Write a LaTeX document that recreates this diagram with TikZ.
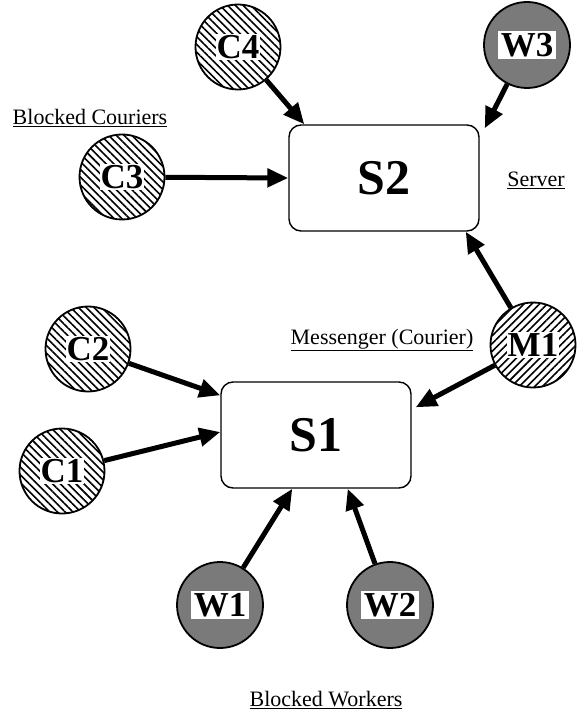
\documentclass[tikz,border=0pt]{standalone}
\usepackage{fontspec}
\setmainfont{Liberation Serif}
\usetikzlibrary{arrows.meta,patterns.meta}

% white knock-out behind the labels of the circles
\newcommand{\knock}[1]{{\setlength{\fboxsep}{1pt}\colorbox{white}{#1}}}
\newcommand{\plate}[1]{{\setlength{\fboxsep}{2.5pt}\colorbox{white}{#1}}}

\tikzset{
  server/.style={draw, line width=1.4pt, rounded corners=12pt,
    minimum width=190pt, minimum height=106pt,
    font=\fontsize{50}{50}\selectfont\bfseries},
  courier/.style={circle, draw, line width=1.8pt, minimum size=85pt, inner sep=0pt,
    pattern={Lines[angle=-45,distance=5.5pt,line width=1.6pt]},
    font=\fontsize{35}{35}\selectfont\bfseries},
  messenger/.style={courier, pattern={Lines[angle=45,distance=5.5pt,line width=1.6pt]}},
  worker/.style={circle, draw, line width=1.8pt, minimum size=86pt, inner sep=0pt,
    fill=black!52, font=\fontsize{35}{35}\selectfont\bfseries},
  feed/.style={line width=5pt, -{Triangle[length=21pt,width=18pt]}},
  caption/.style={font=\fontsize{22}{22}\selectfont}
}

\begin{document}
\begin{tikzpicture}[x=1pt,y=-1pt]
	\useasboundingbox (0,0) rectangle (583,719);
	% servers
	\node[server] (s2) at (384,178) {S2};
	\node[server] (s1) at (316,435) {S1};
	% couriers and workers
	\node[courier] (c4) at (238,47) {\knock{C4}};
	\node[courier] (c3) at (122,177) {\knock{C3}};
	\node[courier] (c2) at (88,349) {\knock{C2}};
	\node[courier] (c1) at (62,471) {\knock{C1}};
	\node[messenger] (m1) at (533,345) {\knock{M1}};
	\node[worker] (w3) at (527,45) {\plate{W3}};
	\node[worker] (w1) at (220,605) {\plate{W1}};
	\node[worker] (w2) at (390,605) {\plate{W2}};
	% who waits on whom
	\draw[feed] (c4) -- ([xshift=16pt]s2.north west);
	\draw[feed] (w3) -- ([xshift=5pt,yshift=-4pt]s2.north east);
	\draw[feed] (c3) -- (s2.west);
	\draw[feed] (m1) -- ([xshift=-14pt]s2.south east);
	\draw[feed] (m1) -- ([xshift=4pt,yshift=-26pt]s1.north east);
	\draw[feed] (c2) -- ([yshift=-14pt]s1.north west);
	\draw[feed] (c1) -- ([yshift=3pt]s1.west);
	\draw[feed] (w1) -- ([xshift=72pt]s1.south west);
	\draw[feed] (w2) -- ([xshift=-64pt]s1.south east);
	% captions
	\node[caption] (lc) at (90,118) {\underline{Blocked Couriers}};
	\node[caption] (ls) at (536,180) {\underline{Server}};
	\node[caption] (lm) at (382,340) {\underline{Messenger (Courier)}};
	\node[caption] (lw) at (326,700) {\underline{Blocked Workers}};
\end{tikzpicture}
\end{document}
